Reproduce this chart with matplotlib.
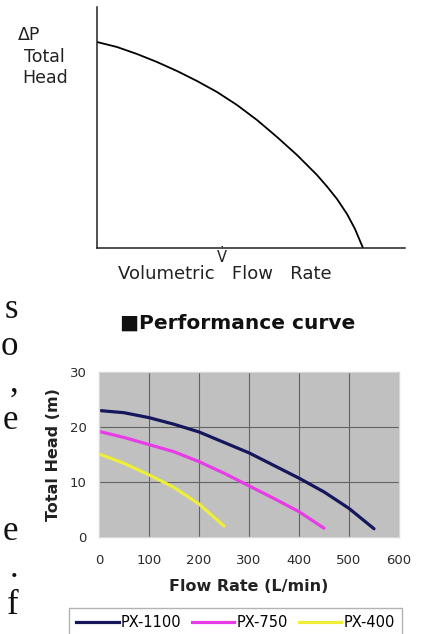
"""
Pump head vs flow: schematic curve plus PX series performance chart
"""

import matplotlib.pyplot as plt
from matplotlib.lines import Line2D

W, H = 421, 634
DPI = 100

plt.rcParams['font.family'] = 'DejaVu Sans'
plt.rcParams['mathtext.fontset'] = 'dejavusans'

# schematic curve (arbitrary units)
schem_flow = [0, 20, 40, 60, 80, 100, 120, 140, 160, 180, 200, 220, 230, 240, 250, 258, 266]
schem_head = [206, 201, 194, 186, 177, 167, 156, 143, 128, 111, 93, 73, 61.5, 49, 34, 19, 0]

# performance curves, flow in L/min, head in m
flow_1100 = [0, 50, 100, 150, 200, 250, 300, 350, 400, 450, 500, 550]
head_1100 = [23.0, 22.6, 21.7, 20.5, 19.1, 17.2, 15.3, 13.0, 10.7, 8.2, 5.2, 1.5]
flow_750 = [0, 50, 100, 150, 200, 250, 300, 350, 400, 450]
head_750 = [19.2, 18.1, 16.8, 15.5, 13.7, 11.6, 9.3, 7.0, 4.6, 1.6]
flow_400 = [0, 50, 100, 150, 200, 250]
head_400 = [15.1, 13.4, 11.3, 9.0, 6.0, 2.0]

series = [
    ('PX-1100', flow_1100, head_1100, '#16165c'),
    ('PX-750', flow_750, head_750, '#e83ce8'),
    ('PX-400', flow_400, head_400, '#eeee3a'),
]

x_ticks = [0, 100, 200, 300, 400, 500, 600]
y_ticks = [0, 10, 20, 30]

# clipped line endings of body text on the left edge
side_letters = ['s', 'o', ',', 'e', 'e', '.', 'f', 'c']
side_baselines = [318, 355, 392, 429, 540, 577, 614, 651]


def rect(x0, y0, x1, y1):
    """pixel box (top-left origin) -> figure fraction rect"""
    return [x0 / W, 1 - y1 / H, (x1 - x0) / W, (y1 - y0) / H]


def fx(px):
    return px / W


def fy(py):
    return 1 - py / H


fig = plt.figure(figsize=(W / DPI, H / DPI), dpi=DPI)
fig.patch.set_facecolor('white')

# --- schematic ---
ax1 = fig.add_axes(rect(97, 7, 405, 248))
ax1.plot(schem_flow, schem_head, color='black', linewidth=1.3)
ax1.set_xlim(0, 308)
ax1.set_ylim(0, 241)
for s in ['top', 'right']:
    ax1.spines[s].set_visible(False)
for s in ['left', 'bottom']:
    ax1.spines[s].set_linewidth(1.1)
    ax1.spines[s].set_color('#222222')
ax1.set_xticks([])
ax1.set_yticks([])

fig.text(fx(18), fy(35), '\u0394P', fontsize=12.5, color='#222222', va='center', ha='left')
fig.text(fx(24), fy(57), 'Total', fontsize=12.5, color='#222222', va='center', ha='left')
fig.text(fx(22), fy(78), 'Head', fontsize=12.5, color='#222222', va='center', ha='left')
fig.text(fx(222), fy(256), r'$\dot{\mathrm{V}}$', fontsize=10.5, color='#222222',
         va='center', ha='center')
fig.text(fx(225), fy(274), 'Volumetric   Flow   Rate', fontsize=13, color='#222222',
         va='center', ha='center')

fig.text(fx(238), fy(323), '\u25a0Performance curve', fontsize=14.5, fontweight='bold',
         color='#111111', va='center', ha='center')

# --- performance chart ---
ax2 = fig.add_axes(rect(99, 372, 399, 537))
ax2.set_facecolor('#c0c0c0')
for name, fl, hd, col in series:
    ax2.plot(fl, hd, color=col, linewidth=2.3, solid_capstyle='round', label=name)
ax2.set_xlim(0, 600)
ax2.set_ylim(0, 30)
ax2.set_xticks(x_ticks)
ax2.set_yticks(y_ticks)
ax2.grid(True, color='#636363', linewidth=0.8)
ax2.set_axisbelow(True)
ax2.tick_params(length=0, labelsize=9.5, colors='#2a2a2a', pad=12)
ax2.tick_params(axis='y', pad=9)
for s in ax2.spines.values():
    s.set_color('#d8d8d8')
    s.set_linewidth(1.0)
ax2.set_xlabel('Flow Rate (L/min)', fontsize=11.5, fontweight='bold', color='#222222', labelpad=9)
ax2.set_ylabel('Total Head (m)', fontsize=11.5, fontweight='bold', color='#222222', labelpad=6)

handles = [Line2D([], [], color=col, linewidth=2.3) for _, _, _, col in series]
fig.legend(handles, [s[0] for s in series], loc='upper left',
           bbox_to_anchor=(fx(69), fy(608), (402 - 69) / W, 0), mode='expand',
           ncol=3, frameon=True, fancybox=False,
           edgecolor='#a0a0a0', fontsize=10.5, handlelength=2.9, handletextpad=0.15,
           columnspacing=0.4, borderpad=0.5, borderaxespad=0)

for ch, base in zip(side_letters, side_baselines):
    fig.text(fx(18), fy(base), ch, fontsize=25, family='Liberation Serif',
             color='#111111', ha='right', va='baseline')

fig.savefig('out.png', dpi=DPI)
plt.close()
